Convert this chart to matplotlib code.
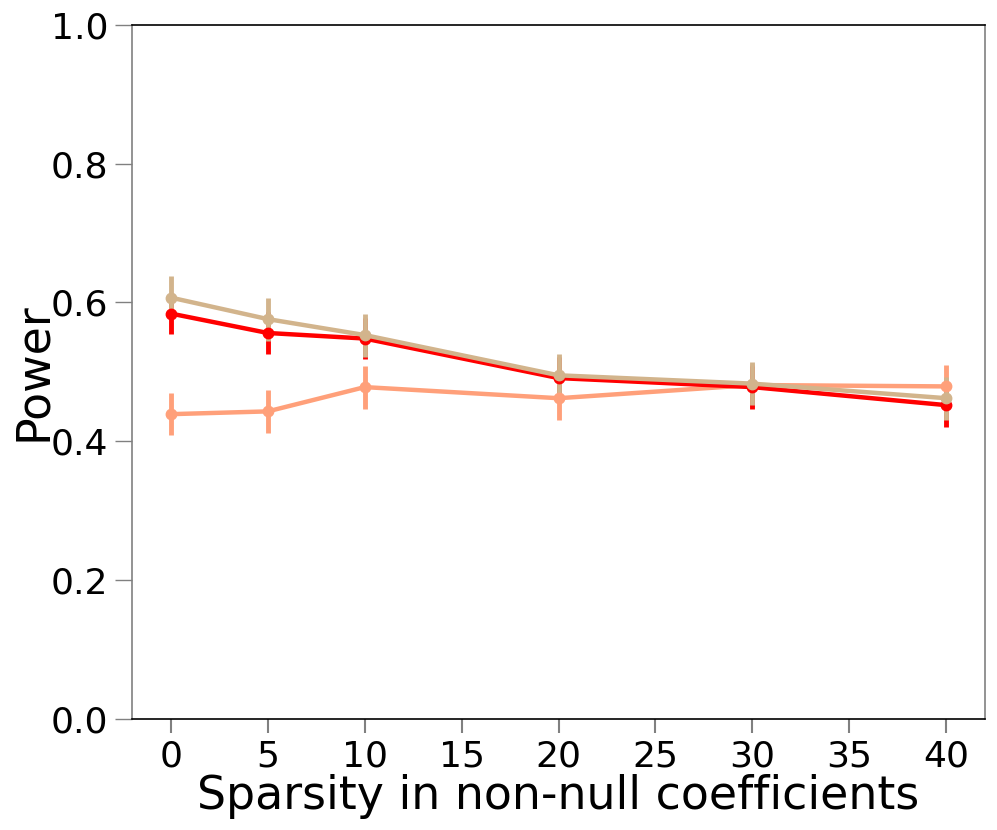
import matplotlib
matplotlib.use("Agg")
import matplotlib.pyplot as plt

sparsity = [0, 5, 10, 20, 30, 40]

power_red = [0.584, 0.556, 0.548, 0.491, 0.478, 0.452]
err_red = [0.030, 0.030, 0.030, 0.030, 0.031, 0.031]

power_salmon = [0.439, 0.443, 0.478, 0.462, 0.481, 0.479]
err_salmon = [0.030, 0.031, 0.031, 0.031, 0.031, 0.031]

power_tan = [0.607, 0.576, 0.553, 0.495, 0.483, 0.462]
err_tan = [0.031, 0.031, 0.031, 0.031, 0.031, 0.031]

x_ticks = [0, 5, 10, 15, 20, 25, 30, 35, 40]
y_ticks = [0.0, 0.2, 0.4, 0.6, 0.8, 1.0]

fig = plt.figure(figsize=(9.97, 8.3), dpi=100)
ax = fig.add_axes([0.1325, 0.134, 0.8555, 0.836])

series = [
    (power_salmon, err_salmon, "#ffa07a"),
    (power_red, err_red, "#ff0000"),
    (power_tan, err_tan, "#d2b48c"),
]
for vals, errs, color in series:
    ax.errorbar(sparsity, vals, yerr=errs, color=color, lw=3.2, elinewidth=3.5,
                marker="o", markersize=7.5, capsize=0)

ax.set_xlim(-2, 42)
ax.set_ylim(0.0, 1.0)
ax.set_xticks(x_ticks)
ax.set_yticks(y_ticks)
ax.set_yticklabels([f"{v:.1f}" for v in y_ticks])

for side in ["left", "right"]:
    ax.spines[side].set_color("#808080")
for side in ["top", "bottom"]:
    ax.spines[side].set_color("black")
for s in ax.spines.values():
    s.set_linewidth(1.2)

ax.tick_params(axis="x", colors="#808080", labelcolor="black", length=10, width=1.5,
               labelsize=26, pad=5)
ax.tick_params(axis="y", colors="#808080", labelcolor="black", length=12, width=1.0,
               labelsize=26, pad=5)

ax.set_xlabel("Sparsity in non-null coefficients", fontsize=33, labelpad=0)
ax.set_ylabel("Power", fontsize=33, labelpad=-4)

fig.savefig("out.png", dpi=100)
